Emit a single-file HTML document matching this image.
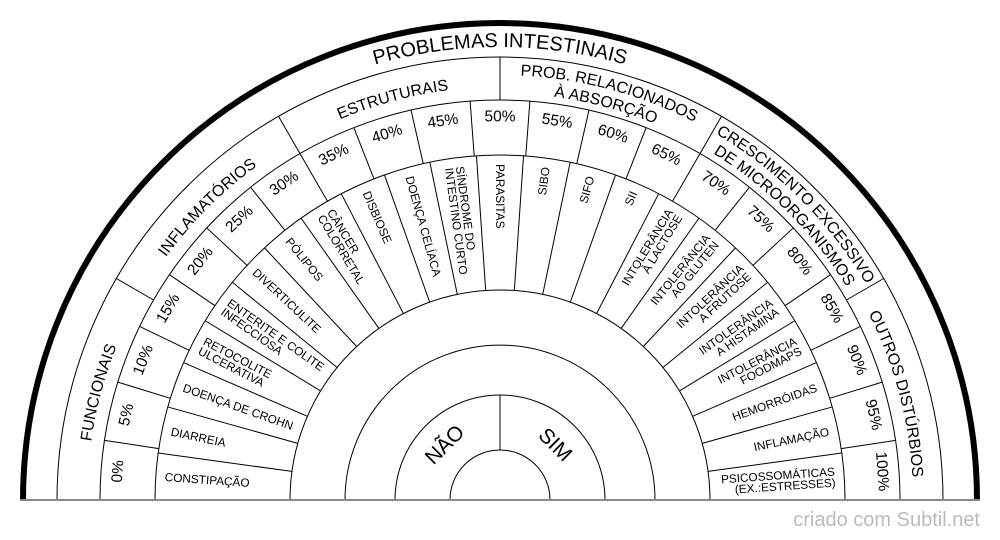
<!DOCTYPE html>
<html><head><meta charset="utf-8"><style>
html,body{margin:0;padding:0;background:#fff;}
svg{display:block;font-family:"Liberation Sans",Arial,sans-serif;}
.p{font-size:15.5px;text-anchor:middle;dominant-baseline:central;}
.l{font-size:11.8px;dominant-baseline:central;}
.s{text-anchor:start}.e{text-anchor:end}
.c{font-size:16px;}
</style></head><body>
<svg width="1000" height="540" viewBox="0 0 1000 540" xmlns="http://www.w3.org/2000/svg">
<defs>
<path id="a453" d="M47 500 A453 453 0 0 1 953 500"/>
<path id="a413" d="M87 500 A413 413 0 0 1 913 500"/>
<path id="a425" d="M75 500 A425 425 0 0 1 925 500"/>
<path id="a407" d="M93 500 A407 407 0 0 1 907 500"/>
</defs>
<g fill="none" stroke="#000" stroke-width="1">
<path d="M57 500 A443 443 0 0 1 943 500"/>
<path d="M100 500 A400 400 0 0 1 900 500"/>
<path d="M155 500 A345 345 0 0 1 845 500"/>
<path d="M290 500 A210 210 0 0 1 710 500"/>
<path d="M345 500 A155 155 0 0 1 655 500"/>
<path d="M395 500 A105 105 0 0 1 605 500"/>
<path d="M450 500 A50 50 0 0 1 550 500"/>
<path d="M23 500 A477 477 0 0 1 977 500" stroke-width="6"/>
<path d="M153.59 300L116.35 278.5M300 153.59L278.5 116.35M500 100L500 57M700 153.59L721.5 116.35M846.41 300L883.65 278.5"/>
<path d="M500 450L500 395"/>
<path d="M158.85 448.58L104.47 440.38M170.33 398.31L117.77 382.1M189.17 350.31L139.61 326.45M214.95 305.65L169.5 274.67M247.1 265.34L206.78 227.93M284.9 230.27L250.6 187.27M327.5 201.22L300 153.59M373.96 178.85L353.86 127.65M423.23 163.65L410.99 110.03M474.22 155.97L470.11 101.12M525.78 155.97L529.89 101.12M576.77 163.65L589.01 110.03M626.04 178.85L646.14 127.65M672.5 201.22L700 153.59M715.1 230.27L749.4 187.27M752.9 265.34L793.22 227.93M785.05 305.65L830.5 274.67M810.83 350.31L860.39 326.45M829.67 398.31L882.23 382.1M841.15 448.58L895.53 440.38"/>
<path d="M291.96 471.4L158.21 453.02M297.79 443.34L167.79 406.92M307.39 416.34L183.56 362.55M320.57 390.89L205.22 320.74M337.1 367.47L232.38 282.27M356.66 346.52L264.52 247.86M378.9 328.44L301.05 218.14M403.39 313.54L341.28 193.68M429.68 302.13L384.47 174.92M457.28 294.39L429.81 162.22M485.67 290.49L476.46 155.8M514.33 290.49L523.54 155.8M542.72 294.39L570.19 162.22M570.32 302.13L615.53 174.92M596.61 313.54L658.72 193.68M621.1 328.44L698.95 218.14M643.34 346.52L735.48 247.86M662.9 367.47L767.62 282.27M679.43 390.89L794.78 320.74M692.61 416.34L816.44 362.55M702.21 443.34L832.21 406.92M708.04 471.4L841.79 453.02"/>
</g>
<line x1="20" y1="500" x2="980" y2="500" stroke="#888" stroke-width="2"/>

<text font-size="20" text-anchor="middle"><textPath href="#a453" startOffset="50%">PROBLEMAS INTESTINAIS</textPath></text>
<g class="c" text-anchor="middle">
<text><textPath href="#a413" startOffset="8.333%">FUNCIONAIS</textPath></text>
<text><textPath href="#a413" startOffset="25%">INFLAMATÓRIOS</textPath></text>
<text><textPath href="#a413" startOffset="41.667%">ESTRUTURAIS</textPath></text>
<text><textPath href="#a425" startOffset="58.333%">PROB. RELACIONADOS</textPath></text>
<text><textPath href="#a407" startOffset="58.333%">À ABSORÇÃO</textPath></text>
<text><textPath href="#a425" startOffset="75%">CRESCIMENTO EXCESSIVO</textPath></text>
<text><textPath href="#a407" startOffset="75%">DE MICROORGANISMOS</textPath></text>
<text><textPath href="#a413" startOffset="91.667%">OUTROS DISTÚRBIOS</textPath></text>
</g>
<g class="p">
<text transform="translate(118.07 471.38) rotate(-85.71)">0%</text>
<text transform="translate(126.61 414.77) rotate(-77.14)">5%</text>
<text transform="translate(143.48 360.07) rotate(-68.57)">10%</text>
<text transform="translate(168.31 308.5) rotate(-60)">15%</text>
<text transform="translate(200.56 261.2) rotate(-51.43)">20%</text>
<text transform="translate(239.5 219.25) rotate(-42.86)">25%</text>
<text transform="translate(284.25 183.55) rotate(-34.29)">30%</text>
<text transform="translate(333.83 154.93) rotate(-25.71)">35%</text>
<text transform="translate(387.11 134.02) rotate(-17.14)">40%</text>
<text transform="translate(442.92 121.28) rotate(-8.57)">45%</text>
<text transform="translate(500 117)">50%</text>
<text transform="translate(557.08 121.28) rotate(8.57)">55%</text>
<text transform="translate(612.89 134.02) rotate(17.14)">60%</text>
<text transform="translate(666.17 154.93) rotate(25.71)">65%</text>
<text transform="translate(715.75 183.55) rotate(34.29)">70%</text>
<text transform="translate(760.5 219.25) rotate(42.86)">75%</text>
<text transform="translate(799.44 261.2) rotate(51.43)">80%</text>
<text transform="translate(831.69 308.5) rotate(60)">85%</text>
<text transform="translate(856.52 360.07) rotate(68.57)">90%</text>
<text transform="translate(873.39 414.77) rotate(77.14)">95%</text>
<text transform="translate(881.93 471.38) rotate(85.71)">100%</text>
</g>
<g class="l s">
<text transform="translate(164.78 477.07) rotate(3.91)">CONSTIPAÇÃO</text>
<text transform="translate(171.03 431.64) rotate(11.74)">DIARREIA</text>
<text transform="translate(183.4 387.48) rotate(19.57)">DOENÇA DE CROHN</text>
<text transform="translate(201.67 345.42) rotate(27.39)"><tspan x="0" y="-5.5">RETOCOLITE</tspan><tspan x="0" y="5.5">ULCERATIVA</tspan></text>
<text transform="translate(225.5 306.24) rotate(35.22)"><tspan x="0" y="-5.5">ENTERITE E COLITE</tspan><tspan x="0" y="5.5">INFECCIOSA</tspan></text>
<text transform="translate(254.44 270.66) rotate(43.04)">DIVERTICULITE</text>
<text transform="translate(287.95 239.36) rotate(50.87)">PÓLIPOS</text>
<text transform="translate(325.42 212.91) rotate(58.7)"><tspan x="0" y="-5.5">CÂNCER</tspan><tspan x="0" y="5.5">COLORRETAL</tspan></text>
<text transform="translate(366.14 191.82) rotate(66.52)">DISBIOSE</text>
<text transform="translate(409.35 176.46) rotate(74.35)">DOENÇA CELÍACA</text>
<text transform="translate(454.25 167.13) rotate(82.17)"><tspan x="0" y="-5.5">SÍNDROME DO</tspan><tspan x="0" y="5.5">INTESTINO CURTO</tspan></text>
<text transform="translate(500 164) rotate(90)">PARASITAS</text>
</g>
<g class="l e">
<text transform="translate(545.75 167.13) rotate(-82.17)">SIBO</text>
<text transform="translate(590.65 176.46) rotate(-74.35)">SIFO</text>
<text transform="translate(633.86 191.82) rotate(-66.52)">SII</text>
<text transform="translate(674.58 212.91) rotate(-58.7)"><tspan x="0" y="-5.5">INTOLERÂNCIA</tspan><tspan x="0" y="5.5">À LACTOSE</tspan></text>
<text transform="translate(712.05 239.36) rotate(-50.87)"><tspan x="0" y="-5.5">INTOLERÂNCIA</tspan><tspan x="0" y="5.5">AO GLUTEN</tspan></text>
<text transform="translate(745.56 270.66) rotate(-43.04)"><tspan x="0" y="-5.5">INTOLERÂNCIA</tspan><tspan x="0" y="5.5">A FRUTOSE</tspan></text>
<text transform="translate(774.5 306.24) rotate(-35.22)"><tspan x="0" y="-5.5">INTOLERÂNCIA</tspan><tspan x="0" y="5.5">A HISTAMINA</tspan></text>
<text transform="translate(798.33 345.42) rotate(-27.39)"><tspan x="0" y="-5.5">INTOLERÂNCIA</tspan><tspan x="0" y="5.5">FOODMAPS</tspan></text>
<text transform="translate(816.6 387.48) rotate(-19.57)">HEMORRÓIDAS</text>
<text transform="translate(828.97 431.64) rotate(-11.74)">INFLAMAÇÃO</text>
<text transform="translate(835.22 477.07) rotate(-3.91)"><tspan x="0" y="-5.5">PSICOSSOMÁTICAS</tspan><tspan x="0" y="5.5">(EX.:ESTRESSES)</tspan></text>
</g>
<text transform="translate(445 445) rotate(-45)" font-size="21" text-anchor="middle" dominant-baseline="central">NÃO</text>
<text transform="translate(555 445) rotate(45)" font-size="21" text-anchor="middle" dominant-baseline="central">SIM</text>
<text x="980" y="526" font-size="20" fill="#bbb" text-anchor="end">criado com Subtil.net</text>
</svg>
</body></html>
